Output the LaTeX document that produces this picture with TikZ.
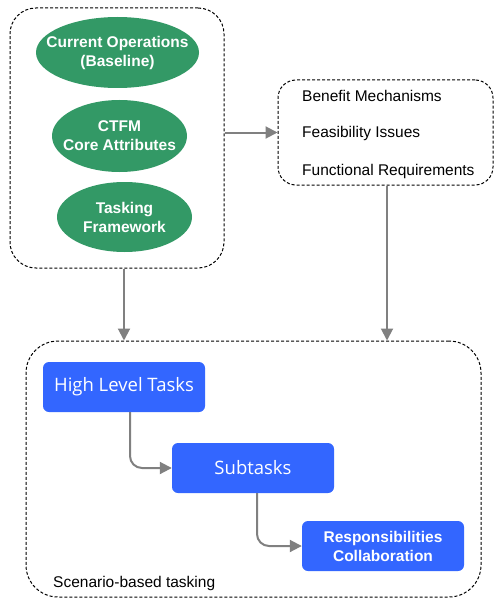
\documentclass[tikz,border=0pt]{standalone}
\usepackage{fontspec}
\setmainfont{Liberation Sans}
\newfontfamily\uifont{Open Sans}
\usetikzlibrary{shapes.geometric,arrows.meta}
\definecolor{leaf}{RGB}{51,153,102}
\definecolor{task}{RGB}{51,102,255}
\definecolor{wire}{RGB}{128,128,128}
\tikzstyle{group}=[draw=black, line width=1pt, dash pattern=on 3pt off 2pt, rounded corners=26pt]
\tikzstyle{basis}=[ellipse, inner sep=0pt, fill=leaf, label distance=0pt]
\tikzstyle{basistext}=[text=white, font=\bfseries\fontsize{15.5}{19}\selectfont, align=center, inner sep=0pt]
\tikzstyle{task}=[rectangle, rounded corners=6pt, fill=task, text=white, minimum width=162pt, minimum height=50pt, inner sep=0pt, align=center]
\tikzstyle{item}=[anchor=west, inner sep=0pt, font=\fontsize{15.5}{18}\selectfont]
\tikzstyle{flow}=[draw=wire, line width=2pt, -{Triangle[length=12pt,width=12pt]}]

\begin{document}
\begin{tikzpicture}[x=1pt,y=-1pt]
				\useasboundingbox (0,0) rectangle (494,599);
				
				%The inputs
				\node[group, minimum width=214pt, minimum height=260pt] (inputs) at (117,138) {};
				\node[basis, minimum width=163pt, minimum height=71pt, label={[basistext]center:Current Operations\\(Baseline)}] (ops) at (117.5,52.5) {};
				\node[basis, minimum width=135pt, minimum height=72pt, label={[basistext]center:CTFM\\Core Attributes}] (ctfm) at (119.5,136) {};
				\node[basis, minimum width=135pt, minimum height=70pt, label={[basistext]center:Tasking\\Framework}] (frame) at (124.5,217) {};
				
				%The outcomes
				\node[group, rounded corners=18pt, minimum width=215pt, minimum height=105pt] (issues) at (385.5,132.5) {};
				\node[item] (benefit) at (302,96) {Benefit Mechanisms};
				\node[item] (feas) at (302,133) {Feasibility Issues};
				\node[item] (req) at (302,171) {Functional Requirements};
				
				%The scenario
				\node[group, rounded corners=32pt, minimum width=455pt, minimum height=256pt] (scen) at (253.5,469) {};
				\node[item] (scenlbl) at (53,583) {Scenario-based tasking};
				\node[task, font=\uifont\fontsize{18.5}{22}\selectfont] (high) at (124,387) {High Level Tasks};
				\node[task, font=\uifont\fontsize{18.5}{22}\selectfont] (sub) at (253,468) {Subtasks};
				\node[task, font=\bfseries\fontsize{15.5}{19}\selectfont] (resp) at (383,546) {Responsibilities\\Collaboration};
				
				\draw[flow] (inputs.east |- issues.west) -- (issues.west);
				\draw[flow] (inputs.south -| high.south) -- (scen.north -| high.south);
				\draw[flow] (issues.south -| 387,0) -- (scen.north -| 387,0);
				\draw[flow, rounded corners=12pt] ([xshift=6pt]high.south) |- (sub.west);
				\draw[flow, rounded corners=12pt] ([xshift=4pt]sub.south) |- (resp.west);
			\end{tikzpicture}
\end{document}
